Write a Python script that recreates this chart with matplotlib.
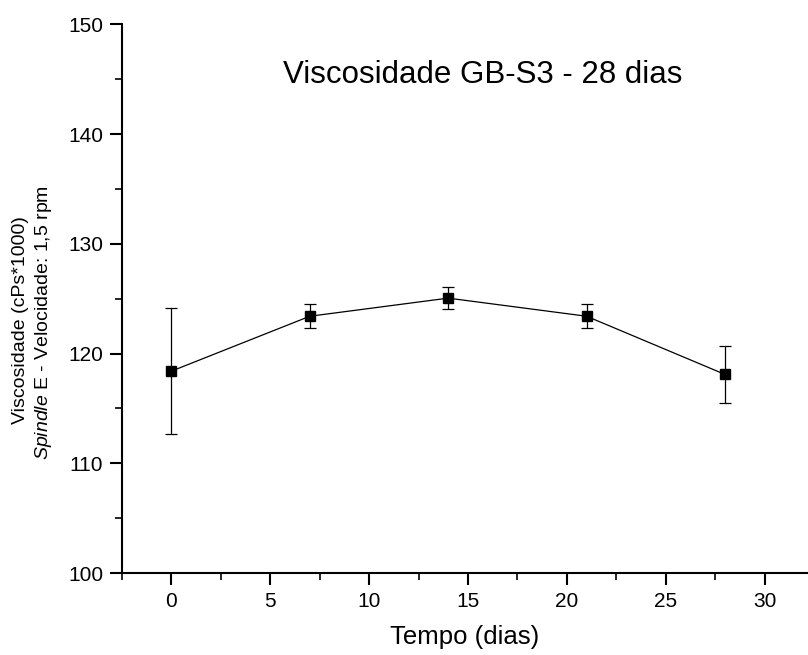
import matplotlib.pyplot as plt
from matplotlib.ticker import MultipleLocator

plt.rcParams['font.family'] = ['Liberation Sans', 'DejaVu Sans']
plt.rcParams['mathtext.fontset'] = 'custom'
plt.rcParams['mathtext.it'] = 'Liberation Sans:italic'
plt.rcParams['mathtext.rm'] = 'Liberation Sans'

# dados
dias = [0, 7, 14, 21, 28]
viscosidade = [118.4, 123.4, 125.05, 123.4, 118.1]
erro = [5.75, 1.1, 1.0, 1.1, 2.6]

fig = plt.figure(figsize=(8.08, 6.55), dpi=100)
ax = fig.add_axes([0.151, 0.125, 0.849, 0.838])

ax.errorbar(dias, viscosidade, yerr=erro, color='black', lw=0.9,
            marker='s', markersize=7.5, capsize=4.3, elinewidth=0.9,
            capthick=0.9)

ax.set_xlim(-2.5, 32.2)
ax.set_ylim(100, 150)
ax.xaxis.set_major_locator(MultipleLocator(5))
ax.xaxis.set_minor_locator(MultipleLocator(2.5))
ax.yaxis.set_major_locator(MultipleLocator(10))
ax.yaxis.set_minor_locator(MultipleLocator(5))

for s in ['top', 'right']:
    ax.spines[s].set_visible(False)
for s in ['left', 'bottom']:
    ax.spines[s].set_linewidth(1.5)

ax.tick_params(which='major', direction='out', length=8.5, width=1.5, labelsize=15, pad=5)
ax.tick_params(which='minor', direction='out', length=5, width=1.2)

ax.set_xlabel('Tempo (dias)', fontsize=18.5, labelpad=10)

fig.text(0.025, 0.511, 'Viscosidade (cPs*1000)', rotation=90, fontsize=14,
         ha='center', va='center')
fig.text(0.054, 0.508, r'$\it{Spindle}$ E - Velocidade: 1,5 rpm', rotation=90,
         fontsize=14, ha='center', va='center')

ax.text(0.526, 0.8925, 'Viscosidade GB-S3 - 28 dias', transform=ax.transAxes,
        fontsize=22.5, ha='center', va='baseline')

fig.savefig('out.png', dpi=100)
